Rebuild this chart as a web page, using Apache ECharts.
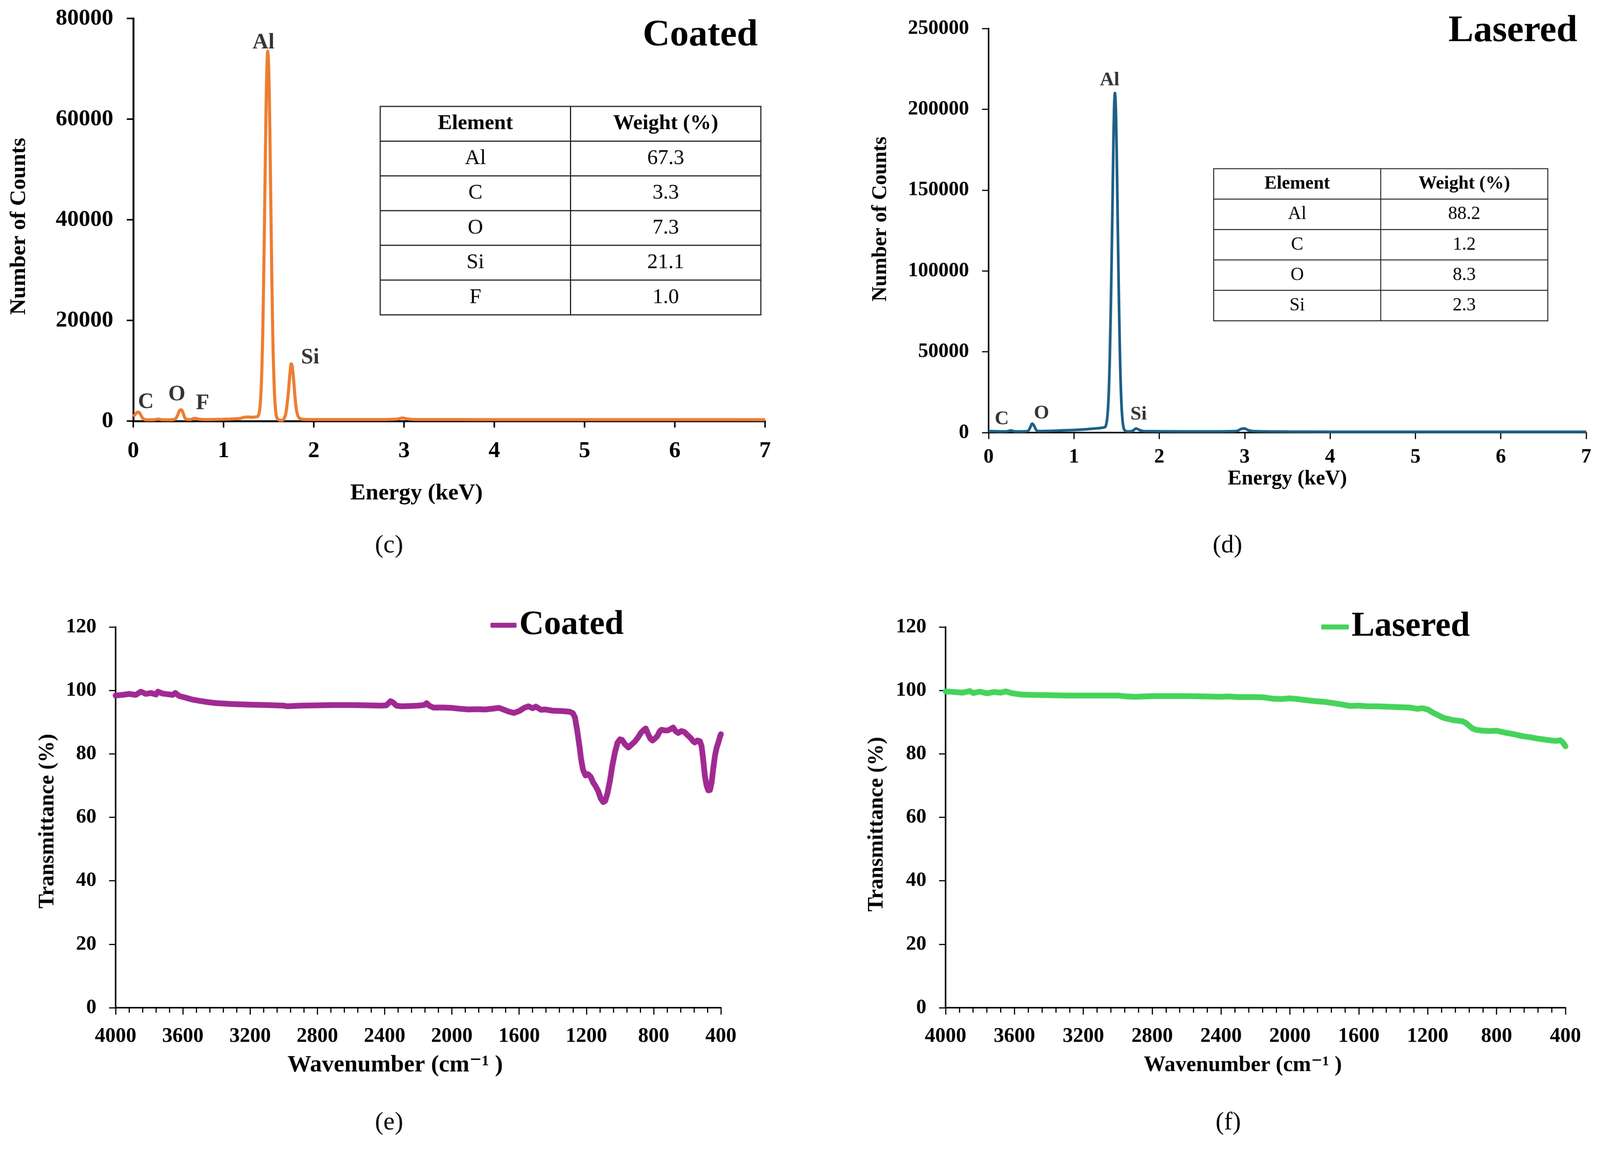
<!DOCTYPE html>
<html>
<head>
<meta charset="utf-8">
<script src="https://cdn.jsdelivr.net/npm/echarts@6/dist/echarts.min.js"></script>
<style>
  html, body { margin: 0; padding: 0; background: #fff; overflow: hidden; }
  #main { position: absolute; left: 0; top: 0; width: 4166px; height: 2979px; transform-origin: 0 0; }
</style>
</head>
<body>
<div id="main"></div>
<script>
// ---- EDS (c) coated: energy (keV) / counts ----
var edsCoatedEnergy = [0, 0.02, 0.04, 0.06, 0.08, 0.11, 0.15, 0.22, 0.28, 0.32, 0.4, 0.46, 0.49, 0.51, 0.53, 0.55, 0.57, 0.6, 0.64, 0.67, 0.69, 0.72, 0.8, 0.9, 1.0, 1.1, 1.18, 1.23, 1.27, 1.32, 1.36,
  1.38, 1.39, 1.40, 1.41, 1.42, 1.43, 1.44, 1.45, 1.46, 1.47, 1.48, 1.49, 1.50, 1.51, 1.52, 1.53, 1.54, 1.55, 1.56, 1.57, 1.58, 1.59, 1.61, 1.64,
  1.66, 1.68, 1.69, 1.70, 1.71, 1.72, 1.73, 1.74, 1.75, 1.76, 1.77, 1.78, 1.79, 1.80, 1.81, 1.83, 1.86, 1.9, 2.0, 2.2, 2.5, 2.8, 2.93, 2.98, 3.03, 3.1, 3.3, 3.6, 4.0, 4.5, 5.0, 5.5, 6.0, 6.5, 7.0];
var edsCoatedCounts = [900, 1300, 1700, 1750, 1300, 450, 250, 250, 380, 260, 250, 350, 1100, 2000, 2250, 1700, 700, 300, 320, 520, 540, 380, 300, 320, 360, 420, 520, 750, 800, 750, 850,
  900, 1300, 2200, 4200, 7800, 14000, 23000, 35000, 48000, 61000, 70000, 73500, 70500, 61500, 48500, 35000, 23000, 13500, 7500, 3600, 1600, 700, 250, 150,
  200, 900, 1500, 2700, 4200, 6100, 8200, 10200, 11400, 11000, 9500, 7400, 5200, 3300, 2000, 800, 400, 320, 310, 300, 300, 310, 400, 620, 450, 330, 300, 300, 290, 290, 280, 280, 280, 280, 270];
var edsCoatedPeaks = [['Al', 1.443, 75200], ['Si', 1.96, 12600], ['C', 0.14, 3740], ['O', 0.483, 5270], ['F', 0.768, 3470]];
var edsCoatedTable = [['Al', '67.3'], ['C', '3.3'], ['O', '7.3'], ['Si', '21.1'], ['F', '1.0']];

// ---- EDS (d) lasered ----
var edsLaseredEnergy = [0, 0.03, 0.08, 0.15, 0.22, 0.26, 0.3, 0.4, 0.46, 0.49, 0.51, 0.53, 0.56, 0.6, 0.7, 0.8, 0.9, 1.0, 1.1, 1.2, 1.3,
  1.36, 1.37, 1.38, 1.39, 1.40, 1.41, 1.42, 1.43, 1.44, 1.45, 1.46, 1.47, 1.48, 1.49, 1.50, 1.51, 1.52, 1.53, 1.54, 1.55, 1.56, 1.57, 1.58, 1.59, 1.61, 1.64,
  1.68, 1.73, 1.77, 1.82, 2.0, 2.5, 2.9, 2.96, 3.0, 3.04, 3.1, 3.5, 4.0, 4.5, 5.0, 5.5, 6.0, 6.5, 7.0];
var edsLaseredCounts = [600, 900, 800, 700, 800, 1300, 800, 700, 1000, 3500, 5500, 4500, 1500, 900, 1000, 1200, 1400, 1600, 1900, 2300, 2800,
  3300, 3800, 5500, 9000, 16000, 28000, 47000, 73000, 103000, 136000, 172000, 200000, 210000, 201000, 175000, 140000, 104000, 72000, 45000, 26000, 14000, 7000, 3300, 1700, 900, 700,
  900, 2500, 1500, 900, 800, 700, 900, 2300, 2500, 1500, 900, 600, 500, 500, 500, 500, 450, 450, 450];
var edsLaseredPeaks = [['Al', 1.418, 218000], ['C', 0.155, 8300], ['O', 0.62, 12000], ['Si', 1.757, 11200]];
var edsLaseredTable = [['Al', '88.2'], ['C', '1.2'], ['O', '8.3'], ['Si', '2.3']];

// ---- FTIR (e) coated: wavenumber (cm-1) / transmittance (%) ----
var ftirCoatedWn = [4000, 3960, 3920, 3880, 3850, 3820, 3790, 3760, 3748, 3720, 3690, 3660, 3645, 3620, 3590, 3550, 3500, 3450, 3400, 3300, 3200, 3100, 3000, 2980, 2900, 2800, 2700, 2600, 2500, 2420, 2390, 2365, 2350, 2330, 2300, 2250, 2200, 2165, 2150, 2135, 2110, 2050, 2000, 1950, 1900, 1850, 1800, 1750, 1720, 1690, 1660, 1630, 1600, 1570, 1545, 1520, 1500, 1470, 1446, 1400, 1350, 1300, 1280, 1268, 1255, 1240, 1232, 1220, 1205, 1190, 1175, 1160, 1145, 1130, 1115, 1100, 1088, 1075, 1060, 1045, 1030, 1015, 1000, 988, 970, 950, 930, 913, 895, 876, 860, 847, 835, 820, 807, 793, 778, 765, 753, 735, 716, 700, 684, 670, 654, 635, 617, 600, 580, 565, 555, 540, 525, 515, 505, 495, 485, 475, 465, 455, 445, 435, 425, 415, 405, 400];
var ftirCoatedT = [98.4, 98.6, 98.9, 98.6, 99.6, 98.9, 99.2, 98.7, 99.6, 99.0, 98.8, 98.6, 99.2, 98.2, 97.8, 97.2, 96.7, 96.3, 96.0, 95.7, 95.5, 95.4, 95.2, 95.0, 95.2, 95.3, 95.4, 95.4, 95.3, 95.2, 95.3, 96.6, 96.2, 95.2, 95.0, 95.1, 95.2, 95.4, 96.0, 95.2, 94.6, 94.6, 94.5, 94.2, 94.0, 94.1, 94.0, 94.3, 94.5, 93.9, 93.3, 92.9, 93.5, 94.5, 95.0, 94.4, 94.9, 93.9, 94.0, 93.6, 93.5, 93.3, 92.8, 91.5, 87.5, 82.0, 78.5, 75.0, 73.2, 73.6, 72.8, 71.0, 69.8, 68.3, 66.0, 64.8, 65.2, 67.5, 71.5, 76.5, 80.5, 83.5, 84.6, 84.4, 83.0, 82.0, 83.0, 83.8, 85.0, 86.6, 87.5, 88.0, 86.5, 84.8, 84.2, 84.8, 85.6, 87.0, 87.6, 87.4, 87.4, 87.8, 88.3, 87.2, 86.6, 87.2, 86.9, 86.0, 85.0, 84.0, 83.6, 84.2, 84.0, 82.5, 78.0, 73.0, 70.0, 68.5, 68.6, 71.0, 75.5, 79.5, 82.0, 83.6, 85.5, 86.2];

// ---- FTIR (f) lasered ----
var ftirLaseredWn = [4000, 3950, 3900, 3860, 3840, 3800, 3760, 3720, 3680, 3650, 3620, 3600, 3560, 3500, 3400, 3300, 3200, 3100, 3000, 2950, 2900, 2800, 2700, 2600, 2500, 2400, 2350, 2300, 2200, 2150, 2100, 2050, 2000, 1960, 1900, 1850, 1800, 1750, 1700, 1650, 1600, 1550, 1500, 1450, 1400, 1350, 1300, 1260, 1230, 1200, 1170, 1140, 1110, 1080, 1050, 1000, 980, 960, 940, 920, 880, 840, 800, 760, 700, 650, 600, 560, 520, 480, 450, 430, 415, 405, 400];
var ftirLaseredT = [99.7, 99.5, 99.3, 99.8, 99.2, 99.6, 99.1, 99.5, 99.3, 99.7, 99.2, 99.0, 98.7, 98.6, 98.5, 98.4, 98.4, 98.4, 98.4, 98.1, 98.0, 98.2, 98.2, 98.2, 98.1, 98.0, 98.1, 97.9, 97.9, 97.8, 97.4, 97.3, 97.5, 97.3, 96.9, 96.6, 96.4, 96.0, 95.6, 95.1, 95.2, 95.0, 95.0, 94.9, 94.8, 94.7, 94.6, 94.2, 94.4, 94.0, 93.0, 92.2, 91.4, 91.0, 90.6, 90.3, 89.8, 88.9, 88.0, 87.6, 87.3, 87.2, 87.3, 86.8, 86.2, 85.6, 85.2, 84.8, 84.5, 84.2, 84.1, 84.3, 83.6, 82.8, 82.4];

var tableHeader = ['Element', 'Weight (%)'];

var SERIF = '"Liberation Serif", "DejaVu Serif", serif';

// 视口可能比 4166 窄，按宽度等比缩放
var dom = document.getElementById('main');
var s = (window.innerWidth || 4166) / 4166;
dom.style.transform = 'scale(' + s + ')';

function pairs(xs, ys) {
  return xs.map(function (x, i) { return [x, ys[i]]; });
}
function peakData(list) {
  return list.map(function (p) { return { value: [p[1], p[2]], name: p[0] }; });
}

// 表格：边框+分隔线+文字
function buildTable(x0, y0, colW, rowH, rows, fontSize, lineW) {
  var kids = [];
  var all = [tableHeader].concat(rows);
  var w = colW * 2, h = rowH * all.length;
  kids.push({ type: 'rect', shape: { x: x0, y: y0, width: w, height: h }, style: { fill: '#fff', stroke: '#222', lineWidth: lineW } });
  for (var i = 1; i < all.length; i++) {
    kids.push({ type: 'line', shape: { x1: x0, y1: y0 + rowH * i, x2: x0 + w, y2: y0 + rowH * i }, style: { stroke: '#222', lineWidth: lineW } });
  }
  kids.push({ type: 'line', shape: { x1: x0 + colW, y1: y0, x2: x0 + colW, y2: y0 + h }, style: { stroke: '#222', lineWidth: lineW } });
  all.forEach(function (r, i) {
    for (var j = 0; j < 2; j++) {
      kids.push({
        type: 'text',
        style: {
          x: x0 + colW * j + colW / 2, y: y0 + rowH * i + rowH / 2,
          text: r[j], fill: '#000', font: (i === 0 ? 'bold ' : '') + fontSize + 'px ' + SERIF,
          align: 'center', verticalAlign: 'middle'
        }
      });
    }
  });
  return kids;
}

function valueAxis(o) {
  var lw = o.lw || 5;
  return {
    type: 'value', gridIndex: o.grid, min: o.min, max: o.max, interval: o.interval, inverse: !!o.inverse,
    name: o.name, nameLocation: 'middle', nameGap: o.nameGap, nameRotate: o.rotate,
    nameTextStyle: { fontFamily: SERIF, fontWeight: 'bold', fontSize: o.nameSize, color: '#000', padding: o.namePad || 0 },
    axisLine: { show: true, onZero: false, lineStyle: { color: '#000', width: lw } },
    axisTick: { show: true, inside: false, length: o.tickLen || 17, lineStyle: { color: '#000', width: lw - 1 } },
    minorTick: { show: !!o.minor, splitNumber: 5, length: 13, lineStyle: { color: '#000', width: lw - 1 } },
    splitLine: { show: false },
    axisLabel: {
      fontFamily: SERIF, fontWeight: 'bold', fontSize: o.labelSize, color: '#000', margin: o.margin,
      formatter: function (v) { return String(v); }
    }
  };
}

var chart = echarts.init(dom, null, { renderer: 'canvas', width: 4166, height: 2979 });

var option = {
  backgroundColor: '#fff',
  animation: false,
  grid: [
    { left: 347, top: 48, width: 1645, height: 1048 },
    { left: 2574, top: 74, width: 1556, height: 1052 },
    { left: 301, top: 1632, width: 1576, height: 991 },
    { left: 2462, top: 1632, width: 1614, height: 991 }
  ],
  xAxis: [
    valueAxis({ grid: 0, min: 0, max: 7, interval: 1, name: 'Energy (keV)', nameGap: 158, nameSize: 60, labelSize: 60, margin: 48, namePad: [0, 170, 0, 0] }),
    valueAxis({ grid: 1, min: 0, max: 7, interval: 1, name: 'Energy (keV)', nameGap: 94, nameSize: 54, labelSize: 53, margin: 38, lw: 4 }),
    valueAxis({ grid: 2, min: 400, max: 4000, interval: 400, inverse: true, name: 'Wavenumber (cm\u207B\u00B9 )', nameGap: 119, nameSize: 62, labelSize: 54, margin: 48, minor: true, tickLen: 18, lw: 4, namePad: [0, 120, 0, 0] }),
    valueAxis({ grid: 3, min: 400, max: 4000, interval: 400, inverse: true, name: 'Wavenumber (cm\u207B\u00B9 )', nameGap: 122, nameSize: 57, labelSize: 54, margin: 48, minor: true, tickLen: 18, lw: 4, namePad: [0, 66, 0, 0] })
  ],
  yAxis: [
    valueAxis({ grid: 0, min: 0, max: 80000, interval: 20000, name: 'Number of Counts', nameGap: 268, rotate: 90, nameSize: 58, labelSize: 60, margin: 52, namePad: [0, 34, 0, 0] }),
    valueAxis({ grid: 1, min: 0, max: 250000, interval: 50000, name: 'Number of Counts', nameGap: 254, rotate: 90, nameSize: 54, labelSize: 53, margin: 51, lw: 4, namePad: [0, 0, 0, 60] }),
    valueAxis({ grid: 2, min: 0, max: 120, interval: 20, name: 'Transmittance (%)', nameGap: 148, rotate: 90, nameSize: 56, labelSize: 53, margin: 50, lw: 4, namePad: [0, 20, 0, 0] }),
    valueAxis({ grid: 3, min: 0, max: 120, interval: 20, name: 'Transmittance (%)', nameGap: 150, rotate: 90, nameSize: 56, labelSize: 53, margin: 50, lw: 4, namePad: [0, 36, 0, 0] })
  ],
  legend: [
    {
      data: ['Coated'], left: 1272, top: 1578, icon: 'roundRect', itemWidth: 68, itemHeight: 13,
      textStyle: { fontFamily: SERIF, fontWeight: 'bold', fontSize: 89, color: '#000', padding: [0, 0, 0, 2] }
    },
    {
      data: ['Lasered'], left: 3435, top: 1582, icon: 'roundRect', itemWidth: 72, itemHeight: 13,
      textStyle: { fontFamily: SERIF, fontWeight: 'bold', fontSize: 90, color: '#000', padding: [0, 0, 0, 2] }
    }
  ],
  series: [
    {
      name: 'EDS Coated', type: 'line', xAxisIndex: 0, yAxisIndex: 0, showSymbol: false, smooth: 0.35,
      data: pairs(edsCoatedEnergy, edsCoatedCounts),
      lineStyle: { color: '#ED7D31', width: 8 }, itemStyle: { color: '#ED7D31' }, z: 3
    },
    {
      name: 'EDS Lasered', type: 'line', xAxisIndex: 1, yAxisIndex: 1, showSymbol: false, smooth: 0.35,
      data: pairs(edsLaseredEnergy, edsLaseredCounts),
      lineStyle: { color: '#1C5F85', width: 7 }, itemStyle: { color: '#1C5F85' }, z: 3
    },
    {
      name: 'Coated', type: 'line', xAxisIndex: 2, yAxisIndex: 2, showSymbol: false,
      data: pairs(ftirCoatedWn, ftirCoatedT),
      lineStyle: { color: '#A02A92', width: 15, cap: 'round', join: 'round' }, itemStyle: { color: '#A02A92' }
    },
    {
      name: 'Lasered', type: 'line', xAxisIndex: 3, yAxisIndex: 3, showSymbol: false,
      data: pairs(ftirLaseredWn, ftirLaseredT),
      lineStyle: { color: '#46D35B', width: 15, cap: 'round', join: 'round' }, itemStyle: { color: '#46D35B' }
    },
    // 峰标注
    {
      name: 'peaksC', type: 'scatter', xAxisIndex: 0, yAxisIndex: 0, symbolSize: 1, itemStyle: { color: 'rgba(0,0,0,0)' },
      data: peakData(edsCoatedPeaks),
      label: { show: true, position: 'inside', formatter: '{b}', fontFamily: SERIF, fontWeight: 'bold', fontSize: 57, color: '#000' }
    },
    {
      name: 'peaksL', type: 'scatter', xAxisIndex: 1, yAxisIndex: 1, symbolSize: 1, itemStyle: { color: 'rgba(0,0,0,0)' },
      data: peakData(edsLaseredPeaks),
      label: { show: true, position: 'inside', formatter: '{b}', fontFamily: SERIF, fontWeight: 'bold', fontSize: 51, color: '#000' }
    }
  ],
  graphic: [
    { type: 'text', style: { x: 1973, y: 93, text: 'Coated', font: 'bold 98px ' + SERIF, fill: '#000', align: 'right', verticalAlign: 'middle' } },
    { type: 'text', style: { x: 4107, y: 82, text: 'Lasered', font: 'bold 98px ' + SERIF, fill: '#000', align: 'right', verticalAlign: 'middle' } },
    { type: 'text', style: { x: 1013, y: 1421, text: '(c)', font: '66px ' + SERIF, fill: '#000', align: 'center', verticalAlign: 'middle' } },
    { type: 'text', style: { x: 3196, y: 1421, text: '(d)', font: '66px ' + SERIF, fill: '#000', align: 'center', verticalAlign: 'middle' } },
    { type: 'text', style: { x: 1013, y: 2923, text: '(e)', font: '66px ' + SERIF, fill: '#000', align: 'center', verticalAlign: 'middle' } },
    { type: 'text', style: { x: 3198, y: 2923, text: '(f)', font: '66px ' + SERIF, fill: '#000', align: 'center', verticalAlign: 'middle' } },
    { type: 'group', children: buildTable(990, 277, 495.5, 90.4, edsCoatedTable, 55, 3) },
    { type: 'group', children: buildTable(3160, 439, 435, 79.2, edsLaseredTable, 48, 2.5) }
  ]
};

chart.setOption(option);
window.addEventListener('resize', function () { chart.resize(); });
</script>
</body>
</html>
